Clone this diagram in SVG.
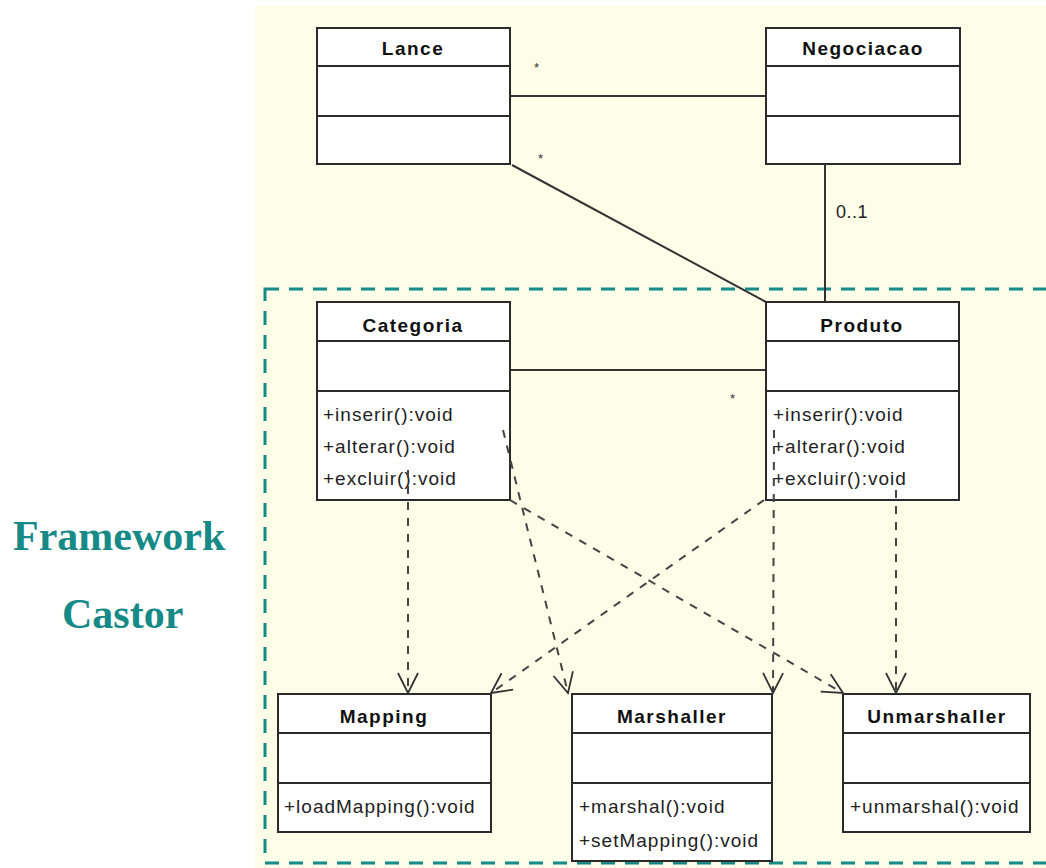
<svg xmlns="http://www.w3.org/2000/svg" width="1046" height="868" viewBox="0 0 1046 868">
<style>
.box{fill:#fff;stroke:#2a2a2a;stroke-width:2}
.div{stroke:#2a2a2a;stroke-width:2}
.hdr{font-family:"Liberation Sans",Arial,sans-serif;font-weight:bold;font-size:19px;fill:#111;text-anchor:middle;letter-spacing:1.5px}
.m{font-family:"Liberation Sans",Arial,sans-serif;font-size:19px;fill:#222;letter-spacing:1px}
.assoc{stroke:#333;stroke-width:2;fill:none}
.dep{stroke:#444;stroke-width:2;fill:none;stroke-dasharray:8 8;marker-end:url(#open)}
.star{font-family:"Liberation Sans",Arial,sans-serif;font-size:13px;fill:#333}
.big{font-family:"Liberation Serif","Times New Roman",serif;font-weight:bold;font-size:42px;fill:#168a86}
</style>
<defs>
<marker id="open" markerUnits="userSpaceOnUse" markerWidth="30" markerHeight="30" refX="21" refY="11" orient="auto">
<path d="M1,1 L21,11 L1,21" fill="none" stroke="#333" stroke-width="1.8"/>
</marker>
</defs>
<rect x="0" y="0" width="1046" height="868" fill="#fff"/>
<rect x="255" y="6" width="791" height="862" fill="#fdfde8"/>
<rect x="265" y="289" width="800" height="574" fill="none" stroke="#168a86" stroke-width="3" stroke-dasharray="14 10"/>
<g id="label">
<text class="big" x="13" y="550">Framework</text>
<text class="big" x="62" y="628">Castor</text>
</g>
<g id="connectors">
<line class="assoc" x1="510" y1="96" x2="766" y2="96"/>
<line class="assoc" x1="512" y1="165" x2="766" y2="302"/>
<line class="assoc" x1="825" y1="164" x2="825" y2="302"/>
<line class="assoc" x1="510" y1="370" x2="766" y2="370"/>
<text class="star" x="534" y="72">*</text>
<text class="star" x="538" y="163">*</text>
<text class="star" x="730" y="403">*</text>
<text class="m" x="836" y="218" style="font-size:18px;letter-spacing:0.5px">0..1</text>
</g>
<g id="Lance"><rect class="box" x="317" y="28" width="193" height="136"/><line class="div" x1="317" y1="66" x2="510" y2="66"/><line class="div" x1="317" y1="116" x2="510" y2="116"/><text class="hdr" x="413" y="55">Lance</text></g>
<g id="Negociacao"><rect class="box" x="766" y="28" width="194" height="136"/><line class="div" x1="766" y1="66" x2="960" y2="66"/><line class="div" x1="766" y1="116" x2="960" y2="116"/><text class="hdr" x="863" y="55">Negociacao</text></g>
<g id="Categoria"><rect class="box" x="317" y="302" width="193" height="198"/><line class="div" x1="317" y1="341" x2="510" y2="341"/><line class="div" x1="317" y1="391" x2="510" y2="391"/><text class="hdr" x="413" y="332">Categoria</text>
<text class="m" x="323" y="421">+inserir():void</text><text class="m" x="323" y="453">+alterar():void</text><text class="m" x="323" y="485">+excluir():void</text></g>
<g id="Produto"><rect class="box" x="766" y="302" width="193" height="198"/><line class="div" x1="766" y1="341" x2="959" y2="341"/><line class="div" x1="766" y1="391" x2="959" y2="391"/><text class="hdr" x="862" y="332">Produto</text>
<text class="m" x="773" y="421">+inserir():void</text><text class="m" x="773" y="453">+alterar():void</text><text class="m" x="773" y="485">+excluir():void</text></g>
<g id="Mapping"><rect class="box" x="278" y="694" width="213" height="138"/><line class="div" x1="278" y1="733" x2="491" y2="733"/><line class="div" x1="278" y1="783" x2="491" y2="783"/><text class="hdr" x="384" y="723">Mapping</text>
<text class="m" x="284" y="813">+loadMapping():void</text></g>
<g id="Marshaller"><rect class="box" x="572" y="694" width="200" height="167"/><line class="div" x1="572" y1="733" x2="772" y2="733"/><line class="div" x1="572" y1="783" x2="772" y2="783"/><text class="hdr" x="672" y="723">Marshaller</text>
<text class="m" x="579" y="813">+marshal():void</text><text class="m" x="579" y="847">+setMapping():void</text></g>
<g id="Unmarshaller"><rect class="box" x="843" y="694" width="187" height="138"/><line class="div" x1="843" y1="733" x2="1030" y2="733"/><line class="div" x1="843" y1="783" x2="1030" y2="783"/><text class="hdr" x="937" y="723">Unmarshaller</text>
<text class="m" x="850" y="813">+unmarshal():void</text></g>
<g id="dependencies">
<line class="dep" x1="408" y1="470" x2="408" y2="693"/>
<line class="dep" x1="503" y1="430" x2="568" y2="693"/>
<line class="dep" x1="510" y1="500" x2="843" y2="693"/>
<line class="dep" x1="764" y1="500" x2="491" y2="693"/>
<line class="dep" x1="774" y1="430" x2="773" y2="693"/>
<line class="dep" x1="896" y1="490" x2="896" y2="693"/>
</g>
</svg>
